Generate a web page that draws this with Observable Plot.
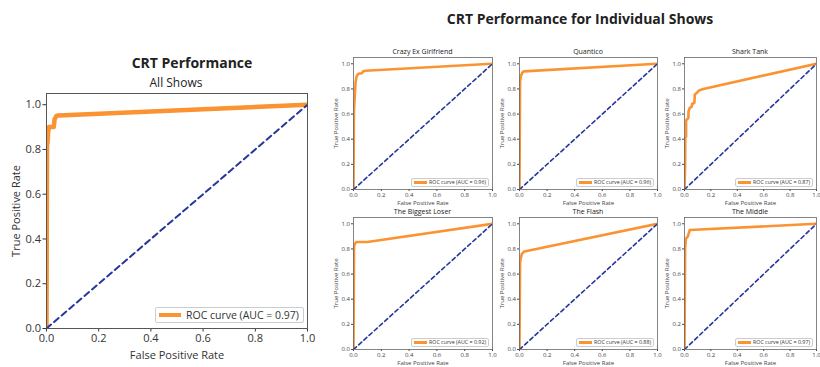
<!DOCTYPE html>
<html><head><meta charset="utf-8">
<script src="https://cdn.jsdelivr.net/npm/d3@7"></script>
<script src="https://cdn.jsdelivr.net/npm/@observablehq/plot@0.6"></script>
<style>
body{margin:0;background:#fff;}
#root{position:relative;width:820px;height:367px;overflow:hidden;font-family:"Open Sans",sans-serif;color:#222;}
.abs{position:absolute;white-space:nowrap;}
.leg{position:absolute;background:rgba(255,255,255,0.9);border:1px solid #ccc;border-radius:2px;box-sizing:border-box;}
.sw{position:absolute;}
.lt{position:absolute;white-space:nowrap;color:#333;}
svg{overflow:visible;max-width:none!important;}
</style></head><body><div id="root"></div>
<script>
// ---- data ----
const tickValues = [0, 0.2, 0.4, 0.6, 0.8, 1.0];
const diagFpr = [0, 1];
const diagTpr = [0, 1];

const allFpr = [0, 0.002, 0.004, 0.006, 0.009, 0.012, 0.028, 0.031, 0.038, 0.045, 1.0];
const allTpr = [0, 0.82, 0.83, 0.87, 0.90, 0.90, 0.90, 0.935, 0.95, 0.952, 1.0];
const allAuc = 0.97;

const shows = ["Crazy Ex Girlfriend", "Quantico", "Shark Tank", "The Biggest Loser", "The Flash", "The Middle"];
const showAuc = [0.96, 0.96, 0.87, 0.92, 0.88, 0.97];

const cegFpr = [0, 0.003, 0.008, 0.015, 0.022, 0.035, 0.06, 0.07, 0.085, 1.0];
const cegTpr = [0, 0.62, 0.72, 0.85, 0.90, 0.92, 0.925, 0.94, 0.945, 1.0];
const quaFpr = [0, 0.004, 0.01, 0.018, 0.03, 1.0];
const quaTpr = [0, 0.86, 0.90, 0.925, 0.94, 1.0];
const shaFpr = [0, 0.005, 0.006, 0.012, 0.012, 0.03, 0.03, 0.04, 0.055, 0.057, 0.075, 0.078, 0.094, 0.113, 0.143, 1.0];
const shaTpr = [0, 0.2, 0.42, 0.42, 0.55, 0.57, 0.62, 0.65, 0.66, 0.68, 0.69, 0.755, 0.77, 0.79, 0.80, 1.0];
const bigFpr = [0, 0.004, 0.01, 0.02, 0.1, 1.0];
const bigTpr = [0, 0.82, 0.84, 0.855, 0.855, 1.0];
const flaFpr = [0, 0.004, 0.01, 0.017, 0.035, 1.0];
const flaTpr = [0, 0.69, 0.73, 0.76, 0.78, 1.0];
const midFpr = [0, 0.005, 0.01, 0.025, 0.04, 1.0];
const midTpr = [0, 0.80, 0.88, 0.90, 0.95, 1.0];

const showFpr = [cegFpr, quaFpr, shaFpr, bigFpr, flaFpr, midFpr];
const showTpr = [cegTpr, quaTpr, shaTpr, bigTpr, flaTpr, midTpr];

// ---- styling ----
const ORANGE = "#fb9332";
const NAVY = "#26369a";
const root = document.getElementById("root");

function addText(txt, x, y, size, weight, anchorCenter = true) {
  const d = document.createElement("div");
  d.className = "abs";
  d.textContent = txt;
  d.style.fontSize = size + "px";
  d.style.fontWeight = weight;
  d.style.lineHeight = "1";
  d.style.left = x + "px";
  d.style.top = (y - size / 2) + "px";
  if (anchorCenter) d.style.transform = "translateX(-50%)";
  root.appendChild(d);
}

function addLegend(left, top, w, h, swL, swW, swH, txtL, size, txt) {
  const b = document.createElement("div");
  b.className = "leg";
  b.style.left = left + "px"; b.style.top = top + "px";
  b.style.width = w + "px"; b.style.height = h + "px";
  const s = document.createElement("div");
  s.className = "sw";
  s.style.left = swL + "px"; s.style.width = swW + "px"; s.style.height = swH + "px";
  s.style.top = ((h - 2) / 2 - swH / 2) + "px";
  s.style.background = ORANGE;
  b.appendChild(s);
  const t = document.createElement("div");
  t.className = "lt";
  t.style.left = txtL + "px"; t.style.fontSize = size + "px"; t.style.lineHeight = (h - 2) + "px";
  t.style.top = "0px";
  t.textContent = txt;
  b.appendChild(t);
  root.appendChild(b);
}

function place(svg, left, top) {
  svg.style.position = "absolute";
  svg.style.left = left + "px";
  svg.style.top = top + "px";
  root.appendChild(svg);
}

// ---- main panel ----
{
  const fl = 46, fr = 307, ft = 93, fb = 328;
  const W = 330, H = 367;
  const p = Plot.plot({
    width: W, height: H,
    marginLeft: fl, marginRight: W - fr, marginTop: ft, marginBottom: H - fb,
    x: {domain: [0, 1]}, y: {domain: [0, 1.05]},
    style: {fontSize: "11px", fontFamily: "Open Sans", background: "transparent", color: "#333"},
    marks: [
      Plot.axisX({ticks: tickValues, tickFormat: ".1f", tickSize: 3.5, tickPadding: 2, label: "False Positive Rate", labelAnchor: "center", labelOffset: 30, labelArrow: "none"}),
      Plot.axisY({ticks: tickValues, tickFormat: ".1f", tickSize: 3.5, tickPadding: 2, label: "True Positive Rate", labelAnchor: "center", labelOffset: 34, labelArrow: "none"}),
      Plot.line({length: allFpr.length}, {x: allFpr, y: allTpr, stroke: ORANGE, strokeWidth: 4.5, clip: true, curve: "linear"}),
      Plot.line({length: 2}, {x: diagFpr, y: diagTpr, stroke: NAVY, strokeWidth: 2, strokeDasharray: "6,4", clip: true}),
      Plot.frame({stroke: "#555", strokeWidth: 1})
    ]
  });
  place(p, 0, 0);
  addText("CRT Performance", 192, 63, 14, 700);
  addText("All Shows", 176, 83, 12, 400);
  addLegend(155, 307, 149, 16, 3, 22, 4.5, 30, 10.5, `ROC curve (AUC = ${allAuc.toFixed(2)})`);
}

// ---- small panels ----
addText("CRT Performance for Individual Shows", 580, 19, 14, 700);
const colLeft = [353, 519, 684];
const colWidth = [139, 138, 132];
const rowTop = [57, 217];
const fh = 132;
shows.forEach((name, i) => {
  const c = i % 3, r = Math.floor(i / 3);
  const fl = colLeft[c], ft = rowTop[r], fw = colWidth[c];
  const mL = 26, mR = 6, mT = 10, mB = 24;
  const p = Plot.plot({
    width: fw + mL + mR, height: fh + mT + mB,
    marginLeft: mL, marginRight: mR, marginTop: mT, marginBottom: mB,
    x: {domain: [0, 1]}, y: {domain: [0, 1.05]},
    style: {fontSize: "6px", fontFamily: "Open Sans", background: "transparent", color: "#444"},
    marks: [
      Plot.axisX({ticks: tickValues, tickFormat: ".1f", tickSize: 2, tickPadding: 1.5, label: "False Positive Rate", labelAnchor: "center", labelOffset: 15.5, labelArrow: "none"}),
      Plot.axisY({ticks: tickValues, tickFormat: ".1f", tickSize: 2, tickPadding: 1.5, label: "True Positive Rate", labelAnchor: "center", labelOffset: 20, labelArrow: "none"}),
      Plot.line({length: showFpr[i].length}, {x: showFpr[i], y: showTpr[i], stroke: ORANGE, strokeWidth: 2.6, clip: true}),
      Plot.line({length: 2}, {x: diagFpr, y: diagTpr, stroke: NAVY, strokeWidth: 1.6, strokeDasharray: "4,3", clip: true}),
      Plot.frame({stroke: "#666", strokeWidth: 0.8})
    ]
  });
  place(p, fl - mL, ft - mT);
  addText(name, fl + fw / 2, ft - 6, 7, 400);
  addLegend(fl + fw - 81, ft + fh - 11, 78, 9, 2, 13, 2.6, 17, 5.3, `ROC curve (AUC = ${showAuc[i].toFixed(2)})`);
});
</script></body></html>
